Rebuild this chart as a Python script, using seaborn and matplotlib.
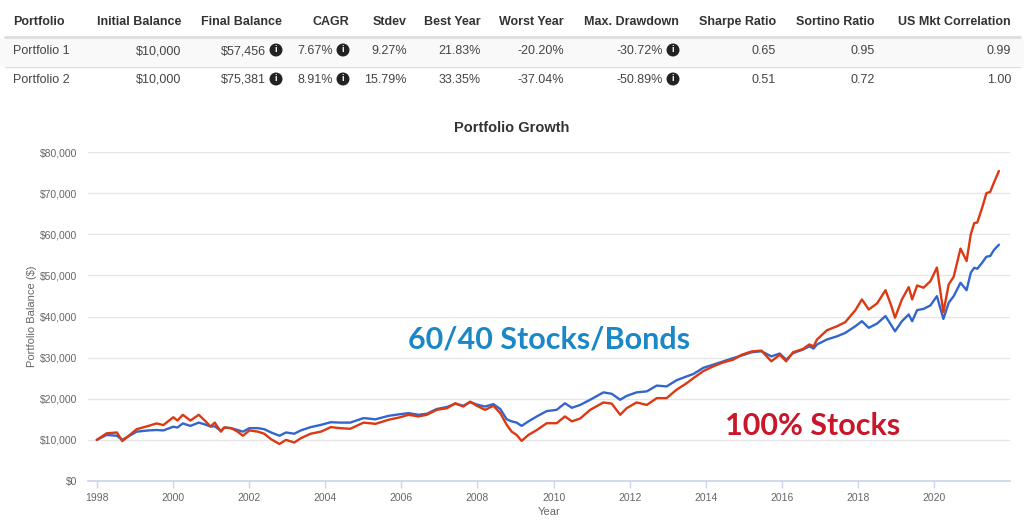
import matplotlib
matplotlib.use("Agg")
import matplotlib.pyplot as plt
import matplotlib.ticker as mticker
import seaborn as sns
import pandas as pd

# table
columns = ["Portfolio", "Initial Balance", "Final Balance", "CAGR", "Stdev", "Best Year",
           "Worst Year", "Max. Drawdown", "Sharpe Ratio", "Sortino Ratio", "US Mkt Correlation"]
row_p1 = ["Portfolio 1", "$10,000", "$57,456", "7.67%", "9.27%", "21.83%", "-20.20%",
          "-30.72%", "0.65", "0.95", "0.99"]
row_p2 = ["Portfolio 2", "$10,000", "$75,381", "8.91%", "15.79%", "33.35%", "-37.04%",
          "-50.89%", "0.51", "0.72", "1.00"]
info_cols = ["Final Balance", "CAGR", "Max. Drawdown"]

# growth series (decimal year)
years = [1998.00, 1998.26, 1998.53, 1998.67, 1999.05, 1999.36, 1999.57, 1999.75, 2000.01, 2000.12,
         2000.26, 2000.46, 2000.68, 2000.86, 2000.99, 2001.10, 2001.26, 2001.35, 2001.53, 2001.70,
         2001.84, 2002.01, 2002.23, 2002.40, 2002.58, 2002.80, 2002.97, 2003.19, 2003.36, 2003.62,
         2003.89, 2004.15, 2004.39, 2004.66, 2005.01, 2005.32, 2005.67, 2005.97, 2006.19, 2006.45,
         2006.67, 2006.93, 2007.20, 2007.42, 2007.63, 2007.81, 2007.98, 2008.20, 2008.42, 2008.60,
         2008.77, 2008.90, 2009.03, 2009.16, 2009.34, 2009.56, 2009.82, 2010.08, 2010.30, 2010.48,
         2010.70, 2010.96, 2011.31, 2011.53, 2011.75, 2011.92, 2012.18, 2012.45, 2012.71, 2012.97,
         2013.23, 2013.50, 2013.67, 2013.93, 2014.20, 2014.46, 2014.72, 2014.94, 2015.20, 2015.46,
         2015.72, 2015.94, 2016.11, 2016.29, 2016.55, 2016.72, 2016.83, 2016.92, 2017.18, 2017.45,
         2017.66, 2017.93, 2018.10, 2018.28, 2018.50, 2018.72, 2018.86, 2018.97, 2019.15, 2019.33,
         2019.42, 2019.55, 2019.72, 2019.90, 2020.07, 2020.24, 2020.38, 2020.51, 2020.69, 2020.85,
         2020.96, 2021.05, 2021.13, 2021.26, 2021.37, 2021.47, 2021.57, 2021.70]
balance_p1 = [10000, 11200, 11000, 10000, 12000, 12300, 12400, 12300, 13200, 13000,
              14000, 13400, 14200, 13700, 13250, 13300, 12200, 13000, 12850, 12400,
              12000, 12850, 12850, 12600, 11800, 11000, 11800, 11500, 12300, 13100,
              13650, 14300, 14200, 14200, 15300, 15000, 15850, 16250, 16500, 16100,
              16350, 17500, 18000, 18800, 18300, 19200, 18600, 18100, 18700, 17500,
              15000, 14500, 14200, 13400, 14500, 15700, 17000, 17300, 18900, 17800,
              18500, 19750, 21550, 21200, 19750, 20700, 21550, 21800, 23200, 23000,
              24500, 25450, 26000, 27500, 28300, 29100, 29900, 30500, 31300, 31550,
              30300, 31000, 29500, 31100, 31950, 32750, 32200, 33200, 34400, 35200,
              36000, 37650, 38850, 37250, 38300, 40100, 38050, 36400, 38850, 40500,
              38850, 41550, 41850, 42700, 44950, 39400, 43350, 44950, 48200, 46400,
              50650, 51850, 51600, 53100, 54550, 54700, 56200, 57456]
balance_p2 = [10000, 11600, 11800, 9700, 12600, 13400, 14000, 13600, 15500, 14700,
              16100, 14700, 16100, 14500, 13250, 14200, 12000, 13000, 12850, 12000,
              11000, 12300, 12000, 11500, 10150, 9000, 10000, 9350, 10400, 11500,
              12000, 13100, 12850, 12700, 14200, 13900, 14900, 15500, 16100, 15700,
              16100, 17300, 17700, 18900, 18100, 19300, 18300, 17300, 18300, 16500,
              13650, 12000, 11200, 9750, 11200, 12400, 14050, 14050, 15700, 14500,
              15200, 17300, 19100, 18800, 16100, 17700, 19100, 18500, 20150, 20150,
              22200, 23800, 25000, 26700, 27900, 28850, 29500, 30700, 31500, 31700,
              29100, 30700, 29100, 31300, 32100, 33200, 32750, 34400, 36650, 37650,
              38600, 41550, 44150, 41700, 43200, 46400, 42900, 39700, 44150, 47150,
              44150, 47550, 47000, 48600, 51900, 41050, 47800, 49650, 56500, 53500,
              60000, 62700, 62850, 66500, 70000, 70300, 72600, 75381]

BLUE = "#3366cc"
RED = "#dc3912"
TXT = "#333333"

sns.set_theme(style="white")
plt.rcParams["font.family"] = ["Liberation Sans", "DejaVu Sans"]

W, H = 1024, 522
fig = plt.figure(figsize=(W / 100, H / 100), dpi=100)


def fx(px):
    return px / W


def fy(py):
    return 1 - py / H


# ---- table ----
col_right = [13, 181, 282, 349, 407, 481, 564, 679, 776, 875, 1011]
fig.patches.append(plt.Rectangle((0, fy(66)), 1, fy(38) - fy(66), transform=fig.transFigure,
                                 fc="#f9f9f9", ec="none", zorder=0))
fig.add_artist(plt.Line2D([fx(5), fx(1020)], [fy(37), fy(37)], color="#dddddd", lw=2))
fig.add_artist(plt.Line2D([fx(5), fx(1020)], [fy(67), fy(67)], color="#dddddd", lw=1))
for i, col in enumerate(columns):
    ha = "left" if i == 0 else "right"
    fig.text(fx(col_right[i]), fy(22), col, ha=ha, va="center", fontsize=9,
             fontweight="bold", color=TXT)
    for row, py in ((row_p1, 51), (row_p2, 80)):
        xr = col_right[i]
        if col in info_cols:
            xr -= 16
            fig.text(fx(col_right[i] - 6), fy(py - 1), "i", ha="center", va="center",
                     fontsize=6.5, fontweight="bold", color="white",
                     bbox=dict(boxstyle="circle,pad=0.22", fc="#222222", ec="none"))
        fig.text(fx(xr), fy(py), row[i], ha=ha, va="center", fontsize=9, color="#444444")

# ---- chart ----
ax = fig.add_axes([fx(88), fy(481), fx(1010) - fx(88), fy(152) - fy(481)])
df = pd.DataFrame({
    "year": years * 2,
    "balance": balance_p1 + balance_p2,
    "portfolio": ["Portfolio 1"] * len(years) + ["Portfolio 2"] * len(years),
})
sns.lineplot(data=df, x="year", y="balance", hue="portfolio", palette=[BLUE, RED],
             linewidth=1.7, legend=False, ax=ax)

ax.set_xlim(1997.77, 2021.99)
ax.set_ylim(0, 80000)
ax.set_xticks(range(1998, 2021, 2))
ax.xaxis.set_major_formatter(mticker.FormatStrFormatter("%d"))
ax.yaxis.set_major_locator(mticker.MultipleLocator(10000))
ax.yaxis.set_major_formatter(mticker.FuncFormatter(lambda v, p: f"${v:,.0f}"))
ax.grid(axis="y", color="#e6e6e6", lw=1)
ax.set_axisbelow(True)
for s in ("top", "right", "left"):
    ax.spines[s].set_visible(False)
ax.spines["bottom"].set_color("#ccd6eb")
ax.tick_params(axis="x", colors="#666666", labelsize=7.5, length=5, width=1, direction="out",
               color="#ccd6eb", bottom=True)
ax.tick_params(axis="y", colors="#666666", labelsize=7.5, length=0, pad=8)
ax.set_xlabel("Year", fontsize=8, color="#666666", labelpad=3)
ax.set_ylabel("Portfolio Balance ($)", fontsize=8, color="#666666", labelpad=2)
fig.text(0.5, fy(128), "Portfolio Growth", ha="center", va="center", fontsize=10.5,
         fontweight="bold", color=TXT)

ax.text(2009.88, 34400, "60/40 Stocks/Bonds", ha="center", va="center", fontsize=22,
        fontweight="bold", color="#1a87c6", family=["Lato", "DejaVu Sans"])
ax.text(2016.8, 13400, "100% Stocks", ha="center", va="center", fontsize=22,
        fontweight="bold", color="#c8162a", family=["Lato", "DejaVu Sans"])

fig.savefig("out.png", dpi=100)
